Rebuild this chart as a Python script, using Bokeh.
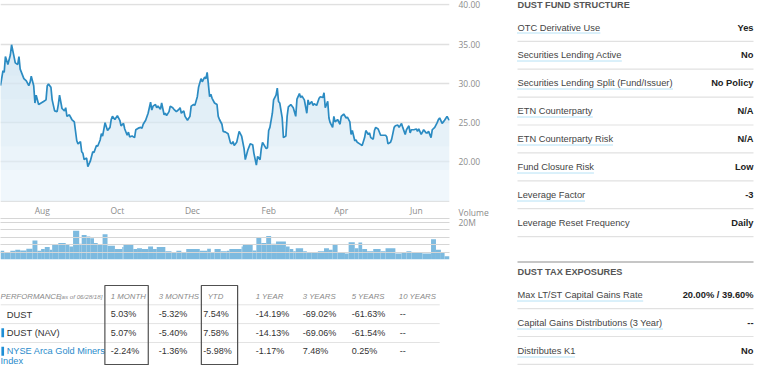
import numpy as np
import pandas as pd
from bokeh.plotting import figure
from bokeh.layouts import row, column
from bokeh.models import (Range1d, FixedTicker, NumeralTickFormatter, ColumnDataSource)
from bokeh.core.properties import value
from bokeh.embed import file_html
from bokeh.resources import INLINE

# ---------------- data ----------------
START = pd.Timestamp("2017-06-28")
END = pd.Timestamp("2018-06-28")

price_day = [0, 2, 3, 4, 6, 8, 9, 11, 12, 14, 15, 16, 19, 21, 23, 24, 25, 27, 28, 29, 31, 33, 35, 37, 38, 39, 41, 42,
             44, 46, 47, 48, 50, 52, 53, 54, 56, 58, 60, 62, 63, 65, 66, 67, 68, 70, 71, 73, 75, 76, 78, 79, 81, 82,
             83, 85, 87, 89, 90, 91, 93, 95, 97, 98, 100, 101, 103, 104, 105, 107, 109, 110, 112, 114, 115, 116,
             118, 120, 122, 123, 124, 126, 127, 128, 130, 131, 133, 134, 135, 137, 138, 140, 141, 143, 145, 146,
             147, 149, 150, 152, 154, 155, 157, 158, 160, 161, 163, 164, 166, 167, 168, 170, 171, 172, 174, 176,
             177, 178, 180, 181, 183, 185, 187, 188, 189, 190, 192, 194, 196, 198, 199, 201, 203, 205, 206, 208,
             209, 211, 212, 213, 216, 217, 218, 219, 221, 222, 224, 225, 226, 227, 229, 230, 232, 233, 234, 236,
             238, 240, 241, 243, 244, 245, 247, 249, 250, 251, 253, 254, 255, 257, 259, 260, 262, 263, 264, 266,
             267, 268, 270, 271, 272, 274, 276, 277, 279, 281, 282, 284, 285, 286, 288, 289, 290, 292, 294, 296,
             297, 299, 300, 301, 303, 304, 305, 307, 309, 311, 313, 314, 315, 317, 318, 320, 321, 323, 324, 326,
             327, 329, 330, 332, 333, 334, 336, 338, 339, 340, 342, 343, 344, 346, 347, 348, 350, 351, 353, 355,
             356, 357, 359, 360, 361, 363, 364, 365]
price = [29.7, 31.6, 31.4, 33.4, 32.4, 33.6, 34.9, 33.4, 32.6, 32.4, 33.4, 31.8, 30.6, 30.3, 29.7, 30.1, 30.9, 29.7,
         27.5, 28.5, 27.3, 27.5, 27.7, 27.9, 29.7, 29.9, 29.5, 27.9, 26.5, 26.4, 27.3, 28.5, 26.8, 26.5, 26.9, 25.8,
         26.0, 25.4, 25.1, 22.7, 22.3, 22.6, 21.3, 21.1, 20.3, 20.5, 19.4, 20.1, 21.3, 21.2, 22.1, 22.0, 22.8, 23.6,
         23.3, 25.0, 24.0, 24.4, 25.4, 25.8, 25.4, 25.9, 25.3, 24.6, 24.9, 24.2, 23.4, 23.8, 23.2, 23.3, 23.1, 24.1,
         24.3, 24.4, 24.3, 24.8, 25.3, 26.2, 27.6, 26.6, 27.1, 27.3, 26.9, 27.1, 26.7, 27.5, 26.0, 26.2, 25.9, 26.4,
         27.1, 26.9, 26.7, 26.4, 26.7, 26.9, 26.2, 26.5, 25.8, 25.3, 25.8, 27.1, 27.3, 27.2, 28.3, 29.5, 30.6, 30.2,
         30.8, 30.6, 31.4, 28.3, 28.6, 28.1, 27.5, 27.3, 25.8, 25.4, 24.8, 23.9, 23.8, 23.6, 22.4, 22.3, 22.6, 22.1,
         22.5, 23.9, 23.3, 21.7, 20.3, 21.5, 22.3, 22.2, 21.1, 19.6, 20.7, 20.3, 21.7, 22.5, 21.7, 21.8, 24.0, 24.4,
         26.2, 27.9, 28.5, 29.4, 27.7, 27.5, 25.6, 23.1, 23.3, 25.8, 27.0, 27.3, 26.9, 25.8, 28.0, 28.7, 28.2, 28.4,
         27.9, 26.2, 27.9, 27.3, 27.7, 27.2, 27.4, 27.2, 28.1, 28.3, 28.2, 28.8, 26.9, 27.7, 25.6, 25.0, 24.4, 25.8,
         25.1, 25.4, 24.8, 25.8, 26.1, 25.6, 25.7, 25.1, 23.5, 24.0, 22.7, 22.8, 22.5, 22.3, 22.1, 23.1, 24.0, 23.5,
         23.7, 23.1, 22.9, 24.0, 24.4, 24.2, 23.4, 23.4, 23.4, 23.2, 22.3, 22.5, 22.9, 24.4, 24.6, 24.7, 24.4, 24.9,
         24.4, 23.5, 24.1, 24.6, 23.7, 24.1, 24.1, 24.2, 23.9, 24.2, 23.5, 23.8, 24.1, 23.7, 23.7, 23.9, 23.1, 24.1,
         24.4, 25.0, 25.4, 25.6, 24.9, 25.1, 25.3, 25.8, 25.5, 25.3]

vol_edge_day = [0, 3, 8, 12, 16, 21, 26, 30, 33, 36, 40, 42, 47, 53, 56, 59, 64, 66, 70, 73, 76, 79, 83, 87, 93, 99,
                100, 108, 111, 115, 120, 124, 127, 134, 139, 143, 147, 151, 162, 168, 171, 174, 179, 184, 186, 196,
                197, 205, 208, 212, 216, 220, 224, 232, 235, 238, 240, 246, 249, 253, 258, 263, 267, 270, 274, 280,
                283, 288, 291, 294, 298, 303, 309, 313, 321, 326, 330, 334, 343, 350, 354, 358, 361, 365]
volume_m = [4.7, 3.9, 4.7, 5.3, 4.9, 5.8, 10.2, 4.7, 5.6, 6.7, 5.3, 7.9, 8.8, 7.9, 7.0, 15.4, 8.4, 13.2, 12.3, 11.4,
            8.8, 7.9, 13.5, 7.4, 5.6, 6.7, 7.9, 5.6, 6.1, 5.6, 7.0, 5.6, 6.7, 4.4, 3.9, 4.7, 3.9, 5.6, 4.7, 5.8, 4.0,
            5.6, 4.4, 4.7, 5.6, 7.0, 7.9, 4.9, 11.9, 8.8, 12.6, 8.4, 9.6, 7.0, 5.6, 4.4, 6.1, 4.4, 3.9, 3.5, 4.4, 6.1,
            5.3, 7.9, 3.9, 3.2, 9.3, 6.1, 9.1, 5.6, 4.4, 5.6, 4.4, 6.1, 3.2, 3.9, 4.4, 3.9, 3.2, 10.9, 5.3, 3.5, 1.8]

month_ticks = ["2017-08-01", "2017-10-01", "2017-12-01", "2018-02-01", "2018-04-01", "2018-06-01"]
price_grid = [15, 20, 25, 30, 35, 40]
price_label_ticks = [20, 25, 30, 35, 40]
vol_grid = [4, 8, 12, 16, 20, 22]
vol_label_ticks = [20]
vol_title = "Volume"

perf_title = "PERFORMANCE"
perf_asof = "[as of 06/28/18]"
perf_cols = ["1 MONTH", "3 MONTHS", "YTD", "1 YEAR", "3 YEARS", "5 YEARS", "10 YEARS"]
perf_names = ["DUST", "DUST (NAV)", "NYSE Arca Gold Miners Index"]
perf_vals = [["5.03%", "-5.32%", "7.54%", "-14.19%", "-69.02%", "-61.63%", "--"],
             ["5.07%", "-5.40%", "7.58%", "-14.13%", "-69.06%", "-61.54%", "--"],
             ["-2.24%", "-1.36%", "-5.98%", "-1.17%", "7.48%", "0.25%", "--"]]
perf_marker = [False, True, True]
perf_boxed = ["1 MONTH", "YTD"]

fund_title = "DUST FUND STRUCTURE"
fund_labels = ["OTC Derivative Use", "Securities Lending Active", "Securities Lending Split (Fund/Issuer)",
               "ETN Counterparty", "ETN Counterparty Risk", "Fund Closure Risk", "Leverage Factor",
               "Leverage Reset Frequency"]
fund_values = ["Yes", "No", "No Policy", "N/A", "N/A", "Low", "-3", "Daily"]
fund_linked = [True, True, True, True, True, True, True, False]
tax_title = "DUST TAX EXPOSURES"
tax_labels = ["Max LT/ST Capital Gains Rate", "Capital Gains Distributions (3 Year)", "Distributes K1"]
tax_values = ["20.00% / 39.60%", "--", "No"]

# ---------------- helpers ----------------
FONT = "Liberation Sans"
AXFONT = "Open Sans"
AXCOL = "#8c8c8c"
AW = {' ': 278, '(': 333, ')': 333, '/': 278, '-': 333, '.': 278, '%': 889, '[': 278, ']': 278,
      'A': 667, 'B': 667, 'C': 722, 'D': 722, 'E': 667, 'F': 611, 'G': 778, 'H': 722, 'I': 278, 'K': 667,
      'L': 556, 'M': 833, 'N': 722, 'O': 778, 'P': 667, 'R': 722, 'S': 667, 'T': 611, 'U': 722, 'V': 667,
      'X': 667, 'Y': 667, 'a': 556, 'b': 556, 'c': 500, 'd': 556, 'e': 556, 'f': 278, 'g': 556, 'h': 556,
      'i': 222, 'j': 222, 'k': 500, 'l': 222, 'm': 833, 'n': 556, 'o': 556, 'p': 556, 'q': 556, 'r': 333,
      's': 500, 't': 278, 'u': 556, 'v': 500, 'w': 722, 'x': 500, 'y': 500, 'z': 500}


def text_w(s, px):
    return sum(AW.get(c, 556) for c in s) * px / 1000.0


def put_text(p, xs, ys, labels, size, color, align="left", style="normal", font=FONT):
    src = ColumnDataSource(dict(x=list(xs), y=list(ys), t=list(labels)))
    p.text(x="x", y="y", text="t", source=src, text_font=value(font), text_font_size=value(size),
           text_color=color, text_align=align, text_baseline="middle", text_font_style=style)


def bare(p):
    p.outline_line_color = None
    p.grid.visible = False
    p.background_fill_color = "white"
    p.border_fill_color = "white"


def style_axis(ax, standoff):
    ax.axis_line_color = None
    ax.major_tick_line_color = None
    ax.minor_tick_line_color = None
    ax.major_tick_out = 0
    ax.major_tick_in = 0
    ax.minor_tick_out = 0
    ax.major_label_standoff = standoff
    ax.major_label_text_font = AXFONT
    ax.major_label_text_font_size = "8.5px"
    ax.major_label_text_color = AXCOL


LEFT_W = 505
FRAME_W = 449
RIGHT_B = LEFT_W - FRAME_W

# ---------------- price chart ----------------
px_dates = START + pd.to_timedelta(np.array(price_day), unit="D")
pr = np.array(price, dtype=float)

p1 = figure(width=LEFT_W, height=202, x_axis_type="datetime",
            x_range=Range1d(START, END), y_range=Range1d(14.85, 40.15),
            x_axis_location=None, y_axis_location="right", output_backend="svg", toolbar_location=None,
            min_border_left=0, min_border_right=RIGHT_B, min_border_top=3, min_border_bottom=0)
p1.outline_line_color = None
p1.xgrid.visible = False
p1.ygrid.ticker = FixedTicker(ticks=price_grid)
p1.ygrid.grid_line_color = "#e0e0e0"
p1.ygrid.grid_line_width = 1.6
style_axis(p1.yaxis[0], 9)
p1.yaxis.ticker = FixedTicker(ticks=price_label_ticks)
p1.yaxis.formatter = NumeralTickFormatter(format="0.00")

p1.varea(x=px_dates, y1=15, y2=pr, fill_color="#e4f0f9", fill_alpha=0.55)
for t in (19, 22, 25, 28, 31):
    p1.varea(x=px_dates, y1=np.minimum(pr, t), y2=pr, fill_color="#cfe3f2", fill_alpha=0.14)
p1.line(x=px_dates, y=pr, line_color="#2b8bc2", line_width=1.7)

# ---------------- volume chart (with month labels row on top) ----------------
VOL_PX = 1.862            # pixels per million shares
VOL_FRAME_H = 57
vol_top = VOL_FRAME_H / VOL_PX
month_label_y = (259 - 209.6) / VOL_PX
vol_title_y = (259 - 211.6) / VOL_PX

edges = START + pd.to_timedelta(np.array(vol_edge_day), unit="D")
p2 = figure(width=LEFT_W, height=60, x_axis_type="datetime", x_range=p1.x_range,
            y_range=Range1d(0, vol_top),
            x_axis_location=None, y_axis_location="right", output_backend="svg",
            toolbar_location=None, min_border_left=0, min_border_right=RIGHT_B,
            min_border_top=0, min_border_bottom=3)
p2.outline_line_color = None
p2.xgrid.visible = False
p2.quad(left=edges[:-1], right=edges[1:], bottom=0, top=volume_m, fill_color="#7dbadf", line_color=None)
p2.ygrid.ticker = FixedTicker(ticks=vol_grid)
p2.ygrid.grid_line_color = "#d6d6d6"
p2.ygrid.grid_line_width = 1
p2.ygrid.level = "overlay"
ya = p2.yaxis[0]
style_axis(ya, 9)
ya.ticker = FixedTicker(ticks=vol_label_ticks + [vol_title_y])
overrides = {t: f"{t}M" for t in vol_label_ticks}
overrides[vol_title_y] = vol_title
ya.major_label_overrides = overrides

month_dates = [pd.Timestamp(d) for d in month_ticks]
put_text(p2, month_dates, [month_label_y] * len(month_dates), [d.strftime("%b") for d in month_dates],
         "8.5px", AXCOL, align="center", font=AXFONT)

# ---------------- performance table ----------------
p3 = figure(width=LEFT_W, height=103, x_range=Range1d(0, LEFT_W), y_range=Range1d(103, 0),
            x_axis_location=None, y_axis_location=None, output_backend="svg", toolbar_location=None,
            min_border=0)
bare(p3)
head_y = 33.6
row_y = [51.9, 70.3, 88.7]
line_y = [42.3, 61.1, 80.0]
wrap_y = 98.8
col_x = [124, 178, 228, 287, 340, 395, 449]
head_x = [124, 178, 233, 287, 340, 395, 448]
table_right = 494

p3.segment(x0=[0] * 3, x1=[table_right] * 3, y0=line_y, y1=line_y, line_color="#e3e3e3", line_width=1)
put_text(p3, [0], [head_y], [perf_title], "7.8px", "#8a8a8a", style="italic")
put_text(p3, [text_w(perf_title, 7.8) + 6], [head_y + 0.3], [perf_asof], "6.2px", "#8a8a8a", style="italic")
put_text(p3, head_x, [head_y] * len(perf_cols), perf_cols, "7.8px", "#8a8a8a", style="italic")

for i, name in enumerate(perf_names):
    y = row_y[i]
    if i == 2:
        first, last = name.rsplit(" ", 1)
        put_text(p3, [7], [y], [first], "9.2px", "#2a8bcb")
        put_text(p3, [0], [wrap_y], [last], "9.2px", "#2a8bcb")
    else:
        put_text(p3, [7], [y], [name], "9.4px", "#333333")
    if perf_marker[i]:
        p3.quad(left=[1], right=[4], bottom=[y + 4.5], top=[y - 4.5], fill_color="#1f8fd6", line_color=None)
    put_text(p3, col_x, [y] * len(perf_vals[i]), perf_vals[i], "9px", "#333333")

box_edges = {"1 MONTH": (117.4, 166.2), "YTD": (225.9, 266.7)}
for c in perf_boxed:
    l, r = box_edges[c]
    p3.quad(left=[l], right=[r], top=[23], bottom=[102.2], fill_color=None,
            line_color="#505050", line_width=1.2)

# ---------------- fund structure / tax ----------------
RW = 754 - LEFT_W
p4 = figure(width=RW, height=365, x_range=Range1d(0, RW), y_range=Range1d(365, 0),
            x_axis_location=None, y_axis_location=None, output_backend="svg", toolbar_location=None,
            min_border=0)
bare(p4)
LX, RX = 12, 248
ROW_H = 27.9
LBL = 9.3


def section(title, title_y, first_y, labels, values, linked):
    put_text(p4, [LX], [title_y], [title], "9.2px", "#555555", style="bold")
    ys = [first_y + ROW_H * i for i in range(len(labels))]
    put_text(p4, [LX] * len(labels), ys, labels, f"{LBL}px", "#444444")
    put_text(p4, [RX] * len(values), ys, values, f"{LBL}px", "#222222", align="right", style="bold")
    ly = [y + 13.8 for y in ys]
    p4.segment(x0=[LX] * len(ly), x1=[RX] * len(ly), y0=ly, y1=ly, line_color="#e1e1e1", line_width=1.2)
    ux0, ux1, uy = [], [], []
    for lab, y, lk in zip(labels, ys, linked):
        if lk:
            ux0.append(LX)
            ux1.append(LX + text_w(lab, LBL))
            uy.append(round(y + 5.5) + 0.5)
    p4.segment(x0=ux0, x1=ux1, y0=uy, y1=uy, line_color="#6cc4ec", line_width=1, line_dash="1 1")


section(fund_title, 4.5, 27.0, fund_labels, fund_values, fund_linked)
p4.segment(x0=[LX], x1=[RX], y0=[261.5], y1=[261.5], line_color="#c6c6c6", line_width=2)
section(tax_title, 271.2, 294.3, tax_labels, tax_values, [True] * len(tax_labels))

layout = row(column(p1, p2, p3), p4)
open("out.html", "w").write(file_html(layout, INLINE))
